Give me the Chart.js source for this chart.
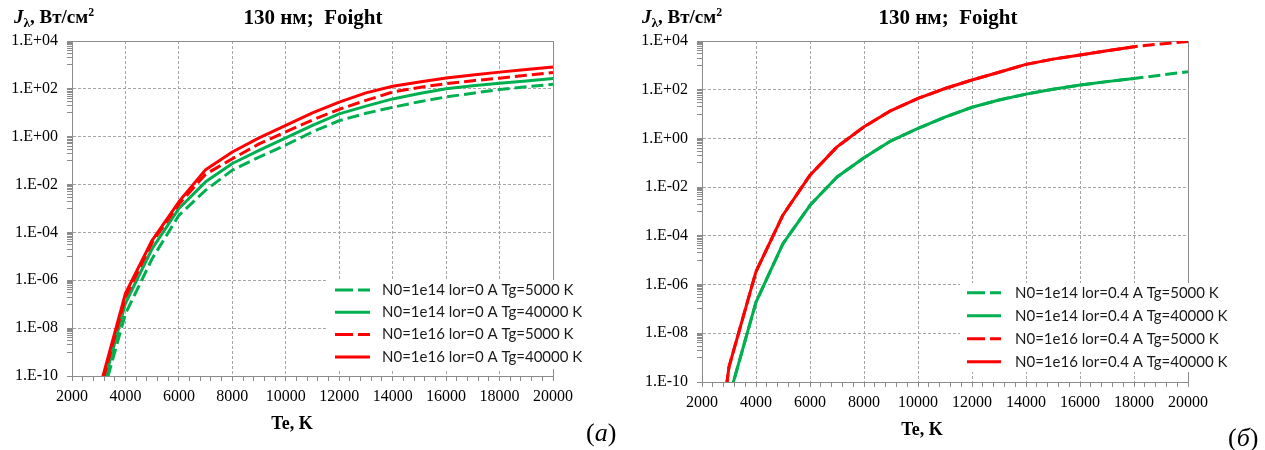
<!DOCTYPE html>
<html lang="ru">
<head>
<meta charset="utf-8">
<script src="https://cdn.jsdelivr.net/npm/chart.js@4.4.1/dist/chart.umd.min.js"></script>
<style>
  html, body { margin: 0; padding: 0; background: #fff; }
  body { width: 1265px; height: 450px; position: relative; overflow: hidden;
         font-family: 'Liberation Serif', 'Times New Roman', serif; color: #000; }
  canvas { position: absolute; top: 0; }
  #chartA { left: 0; }
  #chartB { left: 632px; }
  .txt { position: absolute; white-space: nowrap; line-height: 1; }
  .ylab { font-weight: bold; font-size: 19px; }
  .ylab sub { font-size: 70%; vertical-align: -4px; }
  .ylab sup { font-size: 62%; vertical-align: 7px; }
  .ttl { font-weight: bold; font-size: 21px; transform: translateX(-50%); }
  .xlab { font-weight: bold; font-size: 18px; transform: translateX(-50%); }
  .tag { font-size: 26px; }
</style>
</head>
<body>
<canvas id="chartA" width="620" height="450"></canvas>
<canvas id="chartB" width="633" height="450"></canvas>

<div class="txt ylab" style="left:14px; top:7px"><i>J</i><sub>λ</sub>, Вт/см<sup>2</sup></div>
<div class="txt ttl" style="left:313px; top:7px">130 нм;&nbsp; Foight</div>
<div class="txt xlab" style="left:292px; top:414px">Te, K</div>
<div class="txt tag" style="left:586px; top:420px">(<i>а</i>)</div>

<div class="txt ylab" style="left:642px; top:7px"><i>J</i><sub>λ</sub>, Вт/см<sup>2</sup></div>
<div class="txt ttl" style="left:948px; top:7px">130 нм;&nbsp; Foight</div>
<div class="txt xlab" style="left:922px; top:420px">Te, K</div>
<div class="txt tag" style="left:1228px; top:425px">(<i>б</i>)</div>

<script>
// температура электронов, K
const teA = [3000, 4000, 5000, 6000, 7000, 8000, 9000, 10000, 11000, 12000,
             13000, 14000, 15000, 16000, 17000, 18000, 19000, 20000];
const teB = [2000, 3000, 4000, 5000, 6000, 7000, 8000, 9000, 10000, 11000, 12000,
             13000, 14000, 15000, 16000, 17000, 18000, 19000, 20000];

// (а) lor = 0, Вт/см2
const n14Tg5000A  = [4e-12, 4e-8, 8e-6, 5.2e-4, 5.8e-3, 0.04, 0.14, 0.45, 1.6, 4.7,
                     9.5, 17, 29, 46, 66, 93, 123, 155];
const n14Tg40000A = [8e-12, 1.1e-7, 2.1e-5, 1e-3, 0.013, 0.076, 0.27, 0.9, 3, 9,
                     19, 38, 64, 102, 135, 170, 215, 270];
const n16Tg5000A  = [1.5e-11, 2e-7, 3.8e-5, 1.5e-3, 0.027, 0.12, 0.5, 1.6, 5, 14,
                     33, 74, 115, 165, 220, 280, 370, 480];
const n16Tg40000A = [2.2e-11, 2.8e-7, 4.7e-5, 1.9e-3, 0.042, 0.23, 0.9, 3, 10, 28,
                     68, 128, 195, 285, 380, 500, 650, 820];

// (б) lor = 0.4; для Tg=40000 K расчёт только до 18000 K
const n14Tg5000B  = [3e-15, 2.3e-11, 1.9e-7, 4.8e-5, 1.8e-3, 0.026, 0.16, 0.8, 2.6, 7.5,
                     19, 38, 66, 105, 155, 215, 290, 400, 550];
const n14Tg40000B = [3e-15, 2.3e-11, 1.9e-7, 4.8e-5, 1.8e-3, 0.026, 0.16, 0.8, 2.6, 7.5,
                     19, 38, 66, 105, 155, 215, 290];
const n16Tg5000B  = [1.6e-18, 4.2e-10, 3.4e-6, 7.2e-4, 0.031, 0.45, 3, 14, 44, 112,
                     250, 520, 1100, 1800, 2650, 4000, 5800, 7600, 9500];
const n16Tg40000B = [1.6e-18, 4.2e-10, 3.4e-6, 7.2e-4, 0.031, 0.45, 3, 14, 44, 112,
                     250, 520, 1100, 1800, 2650, 4000, 5800];

const labelsA = ['N0=1e14 lor=0 A Tg=5000 K', 'N0=1e14 lor=0 A Tg=40000 K',
                 'N0=1e16 lor=0 A Tg=5000 K', 'N0=1e16 lor=0 A Tg=40000 K'];
const labelsB = ['N0=1e14 lor=0.4 A Tg=5000 K', 'N0=1e14 lor=0.4 A Tg=40000 K',
                 'N0=1e16 lor=0.4 A Tg=5000 K', 'N0=1e16 lor=0.4 A Tg=40000 K'];

const xMajor = [2000, 4000, 6000, 8000, 10000, 12000, 14000, 16000, 18000, 20000];
const yMajor = [1e-10, 1e-8, 1e-6, 1e-4, 1e-2, 1, 1e2, 1e4];
const yTickLabels = ['1.E-10', '1.E-08', '1.E-06', '1.E-04', '1.E-02', '1.E+00', '1.E+02', '1.E+04'];

const GREEN = '#00b050';
const RED = '#ff0000';
const GRID = '#a6a6a6';
const AXIS = '#8c8c8c';
const DASH = [12, 5];

// малые деления: по оси X через 400 K, по оси Y — k*10^n в верхней декаде каждого интервала
const xTicks = [];
for (let v = 2000; v <= 20000; v += 400) xTicks.push(v);
const yTicks = [...yMajor];
for (let e = -9; e <= 3; e += 2) {
  for (let k = 1; k <= 9; k++) yTicks.push(k * Math.pow(10, e));
}
yTicks.sort((a, b) => a - b);

const isMajorX = v => xMajor.includes(v);
const majorYIndex = v => yMajor.findIndex(m => Math.abs(v / m - 1) < 1e-9);

// рамка области построения сверху и справа
const plotFrame = {
  id: 'plotFrame',
  beforeDatasetsDraw(chart) {
    const { ctx, chartArea: a } = chart;
    ctx.save();
    ctx.strokeStyle = AXIS;
    ctx.lineWidth = 1;
    ctx.strokeRect(Math.round(a.left) + 0.5, Math.round(a.top) + 0.5,
                   Math.round(a.right - a.left), Math.round(a.bottom - a.top));
    ctx.restore();
  }
};

// легенда на белой подложке в правом нижнем углу
const boxLegend = {
  id: 'boxLegend',
  afterDraw(chart, args, o) {
    const ctx = chart.ctx;
    const b = o.box;
    ctx.save();
    ctx.fillStyle = '#fff';
    ctx.fillRect(b[0], b[1], b[2] - b[0], b[3] - b[1]);
    ctx.font = o.fontSpec;
    ctx.textBaseline = 'middle';
    chart.data.datasets.forEach((ds, i) => {
      const y = o.y + i * o.rowH;
      ctx.strokeStyle = ds.borderColor;
      ctx.lineWidth = ds.borderWidth;
      ctx.setLineDash(ds.borderDash.length ? o.sampleDash : []);
      ctx.beginPath();
      ctx.moveTo(o.x, y);
      ctx.lineTo(o.x + o.lineLen, y);
      ctx.stroke();
      ctx.fillStyle = '#1a1a1a';
      ctx.fillText(ds.label, o.x + o.lineLen + o.gap, y);
    });
    ctx.restore();
  }
};

function series(te, vals, label, color, dashed, order) {
  return {
    label: label,
    data: vals.map((v, i) => ({ x: te[i], y: v })),
    borderColor: color,
    borderWidth: 3,
    borderDash: dashed ? DASH : [],
    borderCapStyle: 'butt',
    borderJoinStyle: 'round',
    pointRadius: 0,
    tension: 0,
    fill: false,
    order: order
  };
}

function makeChart(id, datasets, g) {
  const tickFont = { family: "'Liberation Serif', 'Times New Roman', serif", size: 16 };
  return new Chart(document.getElementById(id), {
    type: 'line',
    data: { datasets: datasets },
    options: {
      responsive: false,
      animation: false,
      events: [],
      layout: { padding: { left: 0, top: g.top, right: g.right, bottom: 0 } },
      plugins: {
        legend: { display: false },
        tooltip: { enabled: false },
        boxLegend: g.legend
      },
      scales: {
        x: {
          type: 'linear',
          min: 2000,
          max: 20000,
          afterBuildTicks: s => { s.ticks = xTicks.map(v => ({ value: v })); },
          afterFit: s => { s.height = g.xAxisH; },
          ticks: {
            autoSkip: false,
            maxRotation: 0,
            padding: 6,
            color: '#000',
            font: tickFont,
            callback: v => isMajorX(v) ? String(v) : ''
          },
          grid: {
            color: c => (c.tick && isMajorX(c.tick.value)) ? GRID : 'rgba(0,0,0,0)',
            tickColor: AXIS,
            tickLength: 5,
            tickBorderDash: [],
            lineWidth: 1
          },
          border: { color: AXIS, width: 1, dash: [3, 2] }
        },
        y: {
          type: 'logarithmic',
          min: 1e-10,
          max: 1e4,
          afterBuildTicks: s => { s.ticks = yTicks.map(v => ({ value: v })); },
          afterFit: s => { s.width = g.yAxisW; },
          ticks: {
            autoSkip: false,
            padding: 9,
            color: '#000',
            font: tickFont,
            callback: v => {
              const k = majorYIndex(v);
              return k >= 0 ? yTickLabels[k] : '';
            }
          },
          grid: {
            color: c => (c.tick && majorYIndex(c.tick.value) >= 0) ? GRID : 'rgba(0,0,0,0)',
            tickColor: AXIS,
            tickLength: 5,
            tickBorderDash: [],
            lineWidth: 1
          },
          border: { color: AXIS, width: 1, dash: [3, 2] }
        }
      }
    },
    plugins: [plotFrame, boxLegend]
  });
}

const legendFont = "15px Lato, 'Open Sans', sans-serif";

makeChart('chartA', [
  series(teA, n14Tg5000A, labelsA[0], GREEN, true, 4),
  series(teA, n14Tg40000A, labelsA[1], GREEN, false, 3),
  series(teA, n16Tg5000A, labelsA[2], RED, true, 2),
  series(teA, n16Tg40000A, labelsA[3], RED, false, 1)
], {
  top: 41, right: 67, yAxisW: 72, xAxisH: 74,
  legend: { box: [326, 280, 620, 369], x: 335, y: 290, rowH: 22.3, lineLen: 35, gap: 12,
            fontSpec: legendFont, sampleDash: [18, 5] }
});

makeChart('chartB', [
  series(teB, n14Tg5000B, labelsB[0], GREEN, true, 4),
  series(teB, n14Tg40000B, labelsB[1], GREEN, false, 3),
  series(teB, n16Tg5000B, labelsB[2], RED, true, 2),
  series(teB, n16Tg40000B, labelsB[3], RED, false, 1)
], {
  top: 41, right: 77, yAxisW: 70, xAxisH: 68,
  legend: { box: [328, 283, 633, 372], x: 335, y: 292.7, rowH: 23, lineLen: 34, gap: 14,
            fontSpec: legendFont, sampleDash: [18, 5] }
});
</script>
</body>
</html>
